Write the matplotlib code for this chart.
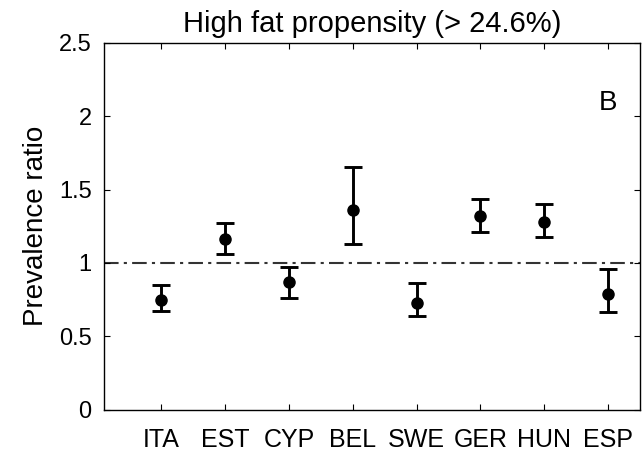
import matplotlib
matplotlib.use("Agg")
import matplotlib.pyplot as plt
import numpy as np

plt.rcParams['font.family'] = ['Liberation Sans', 'DejaVu Sans']

countries = ['ITA', 'EST', 'CYP', 'BEL', 'SWE', 'GER', 'HUN', 'ESP']
ratio = [0.75, 1.16, 0.87, 1.36, 0.73, 1.32, 1.28, 0.79]
lower = [0.67, 1.06, 0.76, 1.13, 0.635, 1.21, 1.175, 0.665]
upper = [0.85, 1.27, 0.975, 1.65, 0.86, 1.435, 1.40, 0.96]

x = np.arange(1, len(countries) + 1)
r = np.array(ratio)
err = np.vstack([r - np.array(lower), np.array(upper) - r])

fig = plt.figure(figsize=(6.42, 4.53), dpi=100)
ax = fig.add_axes([0.162, 0.0956, 0.8349, 0.8101])

# reference line at ratio 1
ax.axhline(1, color='#333333', lw=1.5, ls=(0, (7, 2.5, 1.5, 2.5)), zorder=1)
ax.errorbar(x, r, yerr=err, fmt='o', color='black', ms=8, lw=2.1,
            capsize=6.5, capthick=2.1, zorder=3)

ax.set_xlim(0.1, 8.5)
ax.set_ylim(0, 2.5)
ax.set_xticks(x)
ax.set_xticklabels(countries)
ax.set_yticks([0, 0.5, 1, 1.5, 2, 2.5])
ax.set_yticklabels(['0', '0.5', '1', '1.5', '2', '2.5'])
ax.tick_params(direction='in', top=True, right=True, length=4, width=0.8)
ax.tick_params(axis='x', labelsize=18, pad=13)
ax.tick_params(axis='y', labelsize=17, pad=9)
for s in ax.spines.values():
    s.set_linewidth(1)

ax.set_ylabel('Prevalence ratio', fontsize=20, labelpad=7)
ax.set_title('High fat propensity (> 24.6%)', fontsize=21, pad=8)
ax.text(8.0, 2.09, 'B', fontsize=20, ha='center', va='center')

fig.savefig('out.png', dpi=100)
